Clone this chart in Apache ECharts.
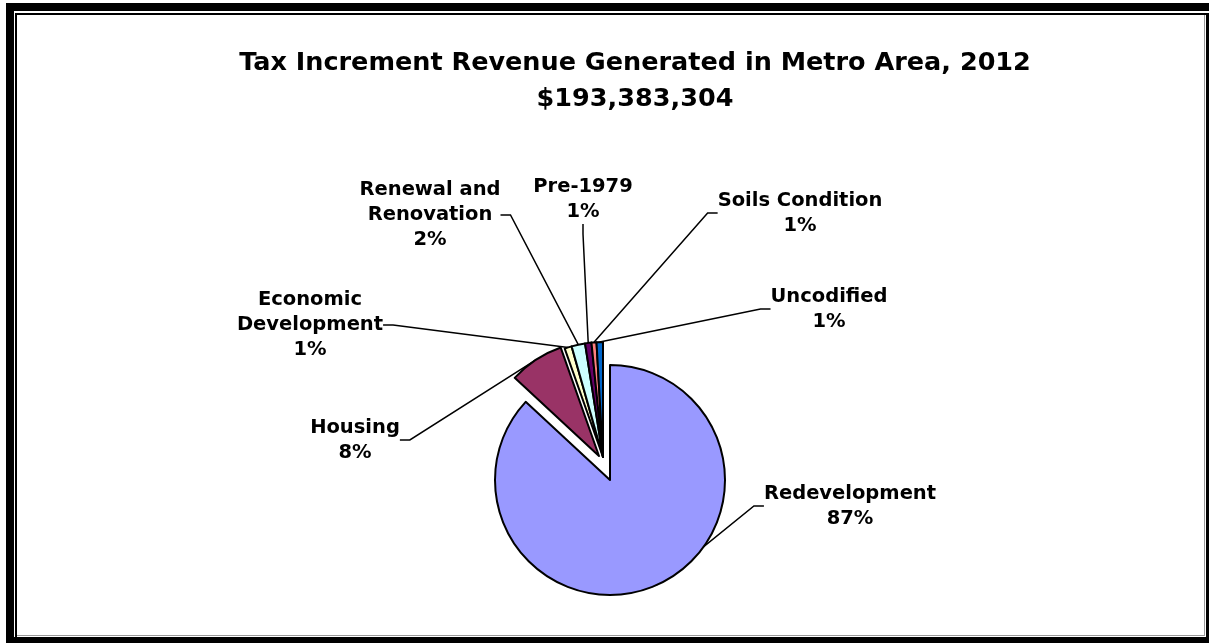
<!DOCTYPE html>
<html>
<head>
<meta charset="utf-8">
<script src="https://cdn.jsdelivr.net/npm/echarts@6/dist/echarts.min.js"></script>
<style>
  html, body { margin: 0; padding: 0; background: #fff; }
  #chart { width: 1209px; height: 643px; }
</style>
</head>
<body>
<div id="chart"></div>
<script>
// ---- data ----
const categories = ['Redevelopment', 'Housing', 'Economic\nDevelopment', 'Renewal and\nRenovation', 'Pre-1979', 'Soils Condition', 'Uncodified'];
const shares = [86.9, 7.7, 1.0, 1.9, 0.9, 0.7, 0.9];
const titleLines = ['Tax Increment Revenue Generated in Metro Area, 2012', '$193,383,304'];

// ---- styling / layout ----
const sliceColors = ['#9999FF', '#993366', '#FFFFCC', '#CCFFFF', '#660066', '#FF8080', '#0066CC'];
const labelCenters = [[850, 506], [355, 440], [310, 325], [430, 215], [583, 199], [800, 213], [829, 309]];
const FONT = '"DejaVu Sans", sans-serif';

function buildData(showIdx) {
  return shares.map((v, i) => {
    const own = showIdx(i);
    return {
      name: categories[i],
      value: v,
      itemStyle: own
        ? { color: sliceColors[i], borderColor: '#000', borderWidth: 2 }
        : { color: 'transparent', borderWidth: 0 },
      label: { show: own },
      labelLine: { show: own }
    };
  });
}

const labelCommon = {
  formatter: p => p.name + '\n' + Math.round(p.percent) + '%',
  fontFamily: FONT,
  fontWeight: 'bold',
  fontSize: 19.5,
  lineHeight: 25,
  color: '#000',
  align: 'center'
};

function layoutFn(params) {
  const c = labelCenters[params.dataIndex];
  return { x: c[0], y: c[1], align: 'center', verticalAlign: 'middle' };
}

function pieSeries(center, showIdx) {
  return {
    type: 'pie',
    center: center,
    radius: 115,
    startAngle: 90,
    clockwise: true,
    avoidLabelOverlap: false,
    silent: true,
    label: labelCommon,
    labelLine: { length: 10, length2: 10, lineStyle: { color: '#000', width: 1.5 } },
    labelLayout: layoutFn,
    emphasis: { disabled: true },
    data: buildData(showIdx)
  };
}

const chart = echarts.init(document.getElementById('chart'), null, { renderer: 'canvas' });
chart.setOption({
  backgroundColor: '#fff',
  animation: false,
  title: {
    text: titleLines.join('\n'),
    left: 630,
    textAlign: 'center',
    top: 40,
    textStyle: { fontFamily: FONT, fontWeight: 'bold', fontSize: 25.5, lineHeight: 36, color: '#000' }
  },
  graphic: [
    { type: 'rect', shape: { x: 6, y: 3, width: 1203, height: 8 }, style: { fill: '#000' }, silent: true },
    { type: 'rect', shape: { x: 6, y: 3, width: 8, height: 640 }, style: { fill: '#000' }, silent: true },
    { type: 'rect', shape: { x: 1206, y: 13, width: 3, height: 630 }, style: { fill: '#000' }, silent: true },
    { type: 'rect', shape: { x: 14, y: 637, width: 1195, height: 6 }, style: { fill: '#000' }, silent: true },
    { type: 'rect', shape: { x: 15, y: 13, width: 1191, height: 2 }, style: { fill: '#000' }, silent: true },
    { type: 'rect', shape: { x: 15, y: 13, width: 2, height: 624 }, style: { fill: '#000' }, silent: true },
    { type: 'rect', shape: { x: 1204, y: 15, width: 1, height: 621 }, style: { fill: '#999' }, silent: true },
    { type: 'rect', shape: { x: 17, y: 635, width: 1188, height: 1 }, style: { fill: '#999' }, silent: true }
  ],
  series: [
    pieSeries([603, 457], i => i >= 2),
    pieSeries([599, 456], i => i === 1),
    pieSeries([610, 480], i => i === 0)
  ]
});
</script>
</body>
</html>
